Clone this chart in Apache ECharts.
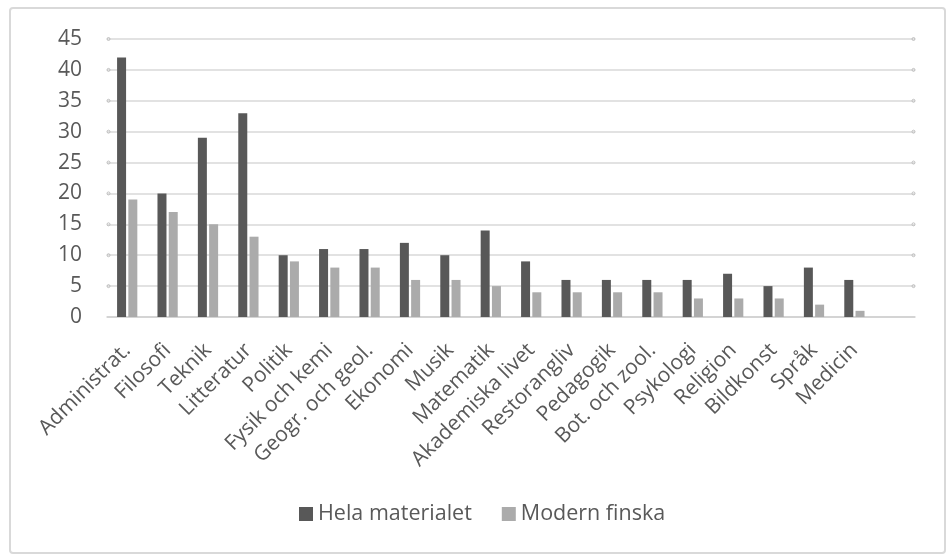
<!DOCTYPE html>
<html>
<head>
<meta charset="utf-8">
<script src="https://cdn.jsdelivr.net/npm/echarts@6/dist/echarts.min.js"></script>
<style>
  html, body { margin: 0; padding: 0; background: #fff; }
  #main { width: 949px; height: 556px; }
</style>
</head>
<body>
<div id="main"></div>
<script type="text/javascript">
    // kategorier (sista är tom, som i originalet)
    var categories = ['Administrat.', 'Filosofi', 'Teknik', 'Litteratur', 'Politik', 'Fysik och kemi',
        'Geogr. och geol.', 'Ekonomi', 'Musik', 'Matematik', 'Akademiska livet', 'Restorangliv',
        'Pedagogik', 'Bot. och zool.', 'Psykologi', 'Religion', 'Bildkonst', 'Språk', 'Medicin', ''];
    var helaMaterialet = [42, 20, 29, 33, 10, 11, 11, 12, 10, 14, 9, 6, 6, 6, 6, 7, 5, 8, 6, null];
    var modernFinska = [19, 17, 15, 13, 9, 8, 8, 6, 6, 5, 4, 4, 4, 4, 3, 3, 3, 2, 1, null];
    var yMax = 45, yStep = 5;

    var myChart = echarts.init(document.getElementById('main'));

    var font = '"Open Sans", "Noto Sans", sans-serif';
    // små cirklar i gridlinjernas ändar
    var dotLabel = {
        margin: -3,
        formatter: function (v) { return v === 0 ? '' : '{c| }'; },
        rich: { c: { width: 3, height: 3, borderRadius: 3, borderColor: '#bdbdbd', borderWidth: 1, fontSize: 1 } }
    };
    function dotAxis(pos) {
        return {
            type: 'value', position: pos, min: 0, max: yMax, interval: yStep,
            axisLine: { show: false }, axisTick: { show: false }, splitLine: { show: false },
            axisLabel: dotLabel
        };
    }

    var option = {
        animation: false,
        textStyle: { fontFamily: font },
        graphic: [{
            type: 'rect',
            shape: { x: 10, y: 8, width: 935, height: 545, r: 3 },
            style: { fill: 'none', stroke: '#d9d9d9', lineWidth: 2 }
        }],
        grid: { left: 107, right: 34, top: 39, bottom: 239 },
        legend: {
            bottom: 26,
            left: 294,
            itemWidth: 14,
            itemHeight: 14,
            itemGap: 30,
            icon: 'rect',
            textStyle: { fontSize: 21.5, color: '#595959', fontFamily: font },
            data: ['Hela materialet', 'Modern finska']
        },
        xAxis: {
            type: 'category',
            data: categories,
            axisLine: { lineStyle: { color: '#d0d0d0', width: 1.5 } },
            axisTick: { show: false },
            axisLabel: {
                interval: 0,
                rotate: 45,
                margin: 30,
                fontSize: 21,
                color: '#595959',
                fontFamily: font
            }
        },
        yAxis: [{
            type: 'value',
            min: 0,
            max: yMax,
            interval: yStep,
            axisLine: { show: false },
            axisTick: { show: false },
            splitLine: { lineStyle: { color: '#d9d9d9', width: 1.5 } },
            axisLabel: { fontSize: 21, color: '#595959', margin: 25, fontFamily: font }
        }, dotAxis('right'), dotAxis('left')],
        series: [{
            name: 'Hela materialet',
            type: 'bar',
            data: helaMaterialet,
            barWidth: 9,
            barGap: '25%',
            itemStyle: { color: '#585858' }
        }, {
            name: 'Modern finska',
            type: 'bar',
            data: modernFinska,
            barWidth: 9,
            barGap: '25%',
            itemStyle: { color: '#ababab' }
        }]
    };

    myChart.setOption(option);
</script>
</body>
</html>
